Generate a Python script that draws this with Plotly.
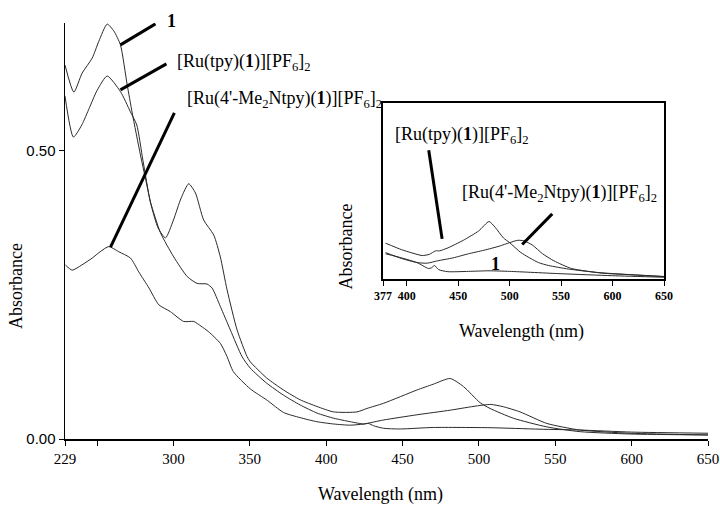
import plotly.graph_objects as go

# ---------------- main spectrum data (wavelength nm, absorbance) ----------------
lig_wl = [229, 234.8, 240.2, 246.8, 251.1, 256.6, 261, 265.3, 269.7, 273, 278.4, 282.8, 285, 291.5,
          300.2, 309, 315.5, 322, 325.3, 330.7, 337.3, 344.9, 350.3, 361, 372.1, 383, 394, 405,
          415.8, 424.5, 427.8, 431, 437.6, 448.5, 470.1, 507.4, 540, 566, 600, 650]
lig_ab = [0.649, 0.602, 0.635, 0.661, 0.690, 0.720, 0.708, 0.684, 0.615, 0.566, 0.493, 0.438, 0.411, 0.358,
          0.316, 0.282, 0.270, 0.269, 0.262, 0.230, 0.189, 0.143, 0.123, 0.097, 0.076, 0.059, 0.045, 0.036,
          0.030, 0.026, 0.027, 0.023, 0.0186, 0.0174, 0.020, 0.0196, 0.017, 0.0156, 0.012, 0.010]

rt_wl = [229, 234.5, 240, 245, 250, 256.6, 265.3, 271.8, 276, 280, 285, 290, 294.8, 300, 305, 310,
         314.4, 319.8, 326.4, 330.7, 335.1, 341.7, 348.2, 350.3, 361, 372.1, 383, 394, 404.9, 420.2,
         426.7, 437.6, 459.4, 470, 481.2, 489.9, 500.8, 507.3, 522.6, 544.5, 566.3, 598.9, 650]
rt_ab = [0.595, 0.524, 0.545, 0.575, 0.605, 0.630, 0.603, 0.568, 0.545, 0.484, 0.410, 0.366, 0.349, 0.380,
         0.418, 0.443, 0.427, 0.380, 0.354, 0.316, 0.259, 0.189, 0.143, 0.134, 0.106, 0.085, 0.068, 0.0564,
         0.047, 0.047, 0.053, 0.062, 0.085, 0.095, 0.105, 0.091, 0.063, 0.053, 0.036, 0.021, 0.0127, 0.0087, 0.007]

me_wl = [229.3, 233.7, 240, 246.8, 252, 257.7, 264.2, 271.9, 277.3, 284, 290.4, 298, 306.7, 313.3, 318,
         323.1, 330.7, 335.1, 339.2, 350.3, 361.5, 372.1, 383, 394, 405, 415.8, 424.5, 437.6, 459.4,
         481.2, 495, 503, 508, 516, 527, 544.5, 566, 599, 650]
me_ab = [0.302, 0.293, 0.302, 0.314, 0.325, 0.334, 0.325, 0.314, 0.290, 0.262, 0.233, 0.221, 0.204, 0.204,
         0.196, 0.186, 0.166, 0.143, 0.117, 0.087, 0.067, 0.046, 0.037, 0.030, 0.026, 0.024, 0.026, 0.033,
         0.042, 0.050, 0.056, 0.059, 0.060, 0.056, 0.047, 0.027, 0.0156, 0.010, 0.007]

# ---------------- inset data ----------------
in_rt_wl = [379.5, 395, 405, 415, 422, 428, 432, 440, 455, 470, 480, 486, 494, 500, 511, 528, 538, 557, 586, 618, 650]
in_rt_ab = [0.061, 0.050, 0.0445, 0.040, 0.042, 0.048, 0.048, 0.053, 0.066, 0.082, 0.098, 0.088, 0.070, 0.062,
            0.045, 0.028, 0.023, 0.017, 0.011, 0.0074, 0.0044]
in_me_wl = [379.5, 395, 410, 420, 430, 445, 460, 475, 490, 500, 508, 514, 522, 532, 543, 560, 590, 620, 650]
in_me_ab = [0.045, 0.035, 0.028, 0.027, 0.031, 0.036, 0.043, 0.049, 0.056, 0.062, 0.066, 0.065, 0.058, 0.043,
            0.031, 0.018, 0.010, 0.007, 0.004]
in_lig_wl = [379.5, 395, 410, 421, 424, 427, 431, 440, 460, 480, 500, 550, 600, 650]
in_lig_ab = [0.043, 0.036, 0.028, 0.018, 0.019, 0.023, 0.016, 0.0125, 0.013, 0.014, 0.013, 0.009, 0.0056, 0.003]

main_xticks = [229, 250, 300, 350, 400, 450, 500, 550, 600, 650]
main_xtext = ["229", "", "300", "350", "400", "450", "500", "550", "600", "650"]
main_yticks = [0, 0.5]
main_ytext = ["0.00", "0.50"]
inset_xticks = [377, 400, 450, 500, 550, 600, 650]
inset_xtext = ["377", "400", "450", "500", "550", "600", "650"]

LBL_TPY = "[Ru(tpy)(<b>1</b>)][PF<sub>6</sub>]<sub>2</sub>"
LBL_ME = "[Ru(4'-Me<sub>2</sub>Ntpy)(<b>1</b>)][PF<sub>6</sub>]<sub>2</sub>"

SERIF = "Liberation Serif"
SANS = "Liberation Sans"
LC = "#2a2a2a"

fig = go.Figure()
for wl, ab in [(lig_wl, lig_ab), (rt_wl, rt_ab), (me_wl, me_ab)]:
    fig.add_trace(go.Scatter(x=wl, y=ab, mode="lines", line=dict(color=LC, width=1, shape="spline", smoothing=0.6),
                             xaxis="x", yaxis="y", hoverinfo="skip"))
for wl, ab in [(in_rt_wl, in_rt_ab), (in_me_wl, in_me_ab), (in_lig_wl, in_lig_ab)]:
    fig.add_trace(go.Scatter(x=wl, y=ab, mode="lines", line=dict(color=LC, width=1, shape="spline", smoothing=0.6),
                             xaxis="x2", yaxis="y2", hoverinfo="skip"))

fig.update_layout(
    width=720, height=506,
    margin=dict(l=65, r=12, t=23, b=67, autoexpand=False),
    paper_bgcolor="white", plot_bgcolor="white",
    showlegend=False,
    xaxis=dict(range=[229, 650], domain=[0, 1], showline=True, linecolor="black", linewidth=1.5,
               ticks="outside", ticklen=5, tickcolor="black", tickvals=main_xticks, ticktext=main_xtext,
               tickfont=dict(family=SERIF, size=15, color="black"), showgrid=False, zeroline=False),
    yaxis=dict(range=[0, 0.722], domain=[0, 1], showline=True, linecolor="black", linewidth=1.5,
               ticks="outside", ticklen=5, tickcolor="black", tickvals=main_yticks, ticktext=main_ytext,
               tickfont=dict(family=SANS, size=15, color="black"), showgrid=False, zeroline=False),
    xaxis2=dict(range=[377, 650], domain=[0.4946, 0.9316], anchor="y2", showline=True, mirror=True,
                linecolor="black", linewidth=2, ticks="outside", ticklen=5, tickcolor="black",
                tickvals=inset_xticks, ticktext=inset_xtext,
                tickfont=dict(family=SERIF, size=12, color="black", weight="bold"),
                showgrid=False, zeroline=False),
    yaxis2=dict(range=[0, 0.3], domain=[0.3846, 0.8077], anchor="x2", showline=True, mirror=True,
                linecolor="black", linewidth=2, ticks="", showticklabels=False, showgrid=False, zeroline=False),
)

# pointer lines
ptr = dict(color="black", width=3)
fig.add_shape(type="line", xref="x", yref="y", x0=265.3, y0=0.684, x1=288.2, y1=0.7205, line=ptr)
fig.add_shape(type="line", xref="x", yref="y", x0=265.3, y0=0.606, x1=295.4, y1=0.651, line=ptr)
fig.add_shape(type="line", xref="x", yref="y", x0=258.8, y0=0.333, x1=300.6, y1=0.566, line=ptr)
fig.add_shape(type="line", xref="x2", yref="y2", x0=421.4, y0=0.2195, x1=434.4, y1=0.0684, line=ptr)
fig.add_shape(type="line", xref="x2", yref="y2", x0=541.4, y0=0.111, x1=512.2, y1=0.0587, line=ptr)

tf = dict(family=SERIF, size=18, color="black")
ann = [
    dict(x=0.1664, y=1.0048, xref="paper", yref="paper", text="<b>1</b>", xanchor="center", yanchor="middle", font=tf),
    dict(x=301.3, y=0.653, xref="x", yref="y", text=LBL_TPY, xanchor="left", yanchor="middle", font=tf),
    dict(x=307.8, y=0.589, xref="x", yref="y", text=LBL_ME, xanchor="left", yanchor="middle", font=tf),
    dict(x=386.3, y=0.245, xref="x2", yref="y2", text=LBL_TPY, xanchor="left", yanchor="middle", font=tf),
    dict(x=452.2, y=0.1454, xref="x2", yref="y2", text=LBL_ME, xanchor="left", yanchor="middle", font=tf),
    dict(x=486.2, y=0.0257, xref="x2", yref="y2", text="<b>1</b>", xanchor="center", yanchor="middle", font=tf),
    dict(x=-0.076, y=0.368, xref="paper", yref="paper", text="Absorbance", textangle=-90,
         xanchor="center", yanchor="middle", font=tf),
    dict(x=0.49, y=-0.1346, xref="paper", yref="paper", text="Wavelength (nm)",
         xanchor="center", yanchor="middle", font=tf),
    dict(x=0.4355, y=0.4627, xref="paper", yref="paper", text="Absorbance", textangle=-90,
         xanchor="center", yanchor="middle", font=tf),
    dict(x=0.7107, y=0.258, xref="paper", yref="paper", text="Wavelength (nm)",
         xanchor="center", yanchor="middle", font=tf),
]
for a in ann:
    fig.add_annotation(showarrow=False, **a)

fig.write_html("out.html", config={"displayModeBar": False, "staticPlot": True},
               post_script="document.body.style.margin='0';document.body.style.overflow='hidden';")
